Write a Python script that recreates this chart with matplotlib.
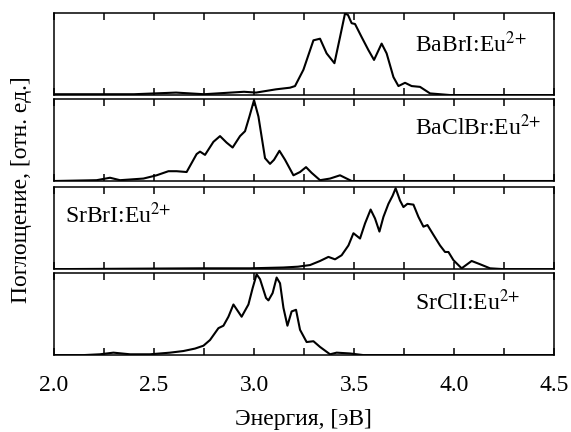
import numpy as np
import matplotlib
matplotlib.use('Agg')
import matplotlib.pyplot as plt
from matplotlib.ticker import MultipleLocator

plt.rcParams['font.family'] = ['Liberation Serif', 'DejaVu Serif']
plt.rcParams['mathtext.fontset'] = 'stix'
plt.rcParams['font.size'] = 17

# Absorption spectra, normalised to the strongest band
e_babri = [2.00, 2.40, 2.61, 2.75, 2.95, 3.01, 3.11, 3.18, 3.205, 3.247, 3.297, 3.33,
           3.363, 3.402, 3.43, 3.455, 3.47, 3.488, 3.505, 3.538, 3.572, 3.60, 3.638,
           3.663, 3.697, 3.722, 3.755, 3.788, 3.83, 3.88, 3.98, 4.50]
a_babri = [0.01, 0.01, 0.03, 0.01, 0.04, 0.03, 0.07, 0.09, 0.11, 0.31, 0.67, 0.69,
           0.51, 0.39, 0.71, 1.00, 0.98, 0.88, 0.87, 0.71, 0.55, 0.43, 0.63,
           0.51, 0.22, 0.11, 0.15, 0.11, 0.10, 0.02, 0.00, 0.00]

e_baclbr = [2.00, 2.213, 2.28, 2.33, 2.447, 2.513, 2.572, 2.613, 2.663, 2.713, 2.73,
            2.755, 2.797, 2.83, 2.863, 2.893, 2.93, 2.955, 2.977, 3.00, 3.022, 3.055,
            3.08, 3.10, 3.127, 3.155, 3.197, 3.23, 3.26, 3.288, 3.33, 3.38, 3.43,
            3.463, 3.488, 4.50]
a_baclbr = [0.00, 0.01, 0.04, 0.01, 0.03, 0.07, 0.12, 0.12, 0.11, 0.33, 0.36,
            0.32, 0.48, 0.55, 0.47, 0.41, 0.55, 0.61, 0.79, 0.99, 0.79, 0.28,
            0.21, 0.26, 0.37, 0.26, 0.07, 0.11, 0.17, 0.10, 0.01, 0.03, 0.07,
            0.03, 0.00, 0.00]

e_srbri = [2.00, 2.73, 2.98, 3.147, 3.22, 3.28, 3.33, 3.372, 3.405, 3.438, 3.472,
           3.497, 3.53, 3.555, 3.583, 3.605, 3.627, 3.647, 3.672, 3.693, 3.708,
           3.73, 3.747, 3.767, 3.797, 3.822, 3.847, 3.867, 3.897, 3.93, 3.955,
           3.972, 3.997, 4.038, 4.088, 4.13, 4.18, 4.247, 4.50]
a_srbri = [0.00, 0.01, 0.01, 0.02, 0.03, 0.05, 0.10, 0.15, 0.12, 0.17, 0.29,
           0.44, 0.375, 0.56, 0.73, 0.62, 0.46, 0.64, 0.80, 0.90, 0.99,
           0.84, 0.76, 0.80, 0.79, 0.64, 0.52, 0.54, 0.42, 0.29, 0.21,
           0.21, 0.11, 0.01, 0.10, 0.06, 0.01, 0.00, 0.00]

e_srcli = [2.00, 2.147, 2.23, 2.297, 2.38, 2.48, 2.58, 2.647, 2.705, 2.747, 2.78,
           2.822, 2.847, 2.872, 2.897, 2.938, 2.972, 2.993, 3.013, 3.03, 3.06,
           3.072, 3.093, 3.113, 3.13, 3.147, 3.167, 3.188, 3.21, 3.23, 3.263,
           3.297, 3.33, 3.38, 3.413, 3.48, 3.547, 4.50]
a_srcli = [0.00, 0.00, 0.01, 0.03, 0.01, 0.01, 0.03, 0.05, 0.08, 0.115, 0.185,
           0.33, 0.36, 0.47, 0.62, 0.47, 0.62, 0.82, 0.99, 0.93, 0.70,
           0.67, 0.76, 0.95, 0.88, 0.58, 0.36, 0.535, 0.555, 0.31, 0.16,
           0.17, 0.10, 0.01, 0.03, 0.02, 0.00, 0.00]

spectra = [
    (e_babri, a_babri, 'BaBrI:Eu$^{2{+}}$', 0.722, 0.52),
    (e_baclbr, a_baclbr, 'BaClBr:Eu$^{2{+}}$', 0.722, 0.56),
    (e_srbri, a_srbri, 'SrBrI:Eu$^{2{+}}$', 0.022, 0.56),
    (e_srcli, a_srcli, 'SrClI:Eu$^{2{+}}$', 0.722, 0.555),
]
xticks = [2.0, 2.5, 3.0, 3.5, 4.0, 4.5]

fig = plt.figure(figsize=(5.71, 4.32), dpi=100)
bottoms = [0.780, 0.581, 0.377, 0.178]
axes = []
for (e, a, label, tx, ty), b in zip(spectra, bottoms):
    ax = fig.add_axes([0.0946, b, 0.8757, 0.189])
    ax.plot(e, a, 'k-', lw=1.5)
    ax.set_xlim(2.0, 4.5)
    ax.set_ylim(0, 1.0)
    ax.set_yticks([])
    ax.xaxis.set_major_locator(MultipleLocator(0.5))
    ax.xaxis.set_minor_locator(MultipleLocator(0.25))
    ax.tick_params(axis='x', which='both', direction='in', top=True, bottom=True,
                   length=5, width=1.1, labelbottom=False)
    for s in ax.spines.values():
        s.set_linewidth(1.1)
    ax.text(tx, ty, label, transform=ax.transAxes, ha='left', va='baseline',
            fontsize=17)
    axes.append(ax)

axes[-1].set_xticks(xticks)
axes[-1].set_xticklabels(['%.1f' % v for v in xticks])
axes[-1].tick_params(axis='x', labelbottom=True, pad=14, labelsize=17)
fig.text(0.532, 0.03, 'Энергия, [эВ]', ha='center', va='center', fontsize=17)
fig.text(0.0385, 0.56, 'Поглощение, [отн. ед.]', rotation=90, ha='center',
         va='center', fontsize=17)

fig.savefig('out.png', dpi=100)
